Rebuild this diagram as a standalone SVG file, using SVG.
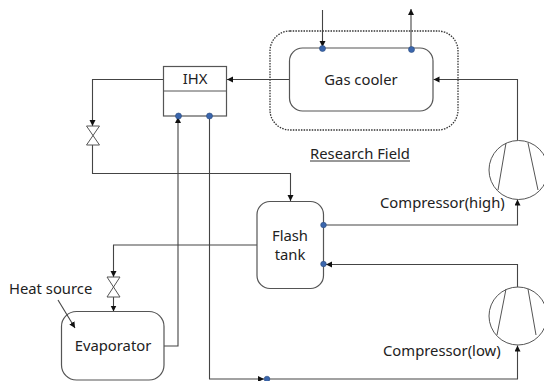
<svg xmlns="http://www.w3.org/2000/svg" width="544" height="381" viewBox="0 0 544 381">
<style>
.box{fill:#fff;stroke:#555;stroke-width:1.2}
.thin{fill:none;stroke:#555;stroke-width:1}
.line{fill:none;stroke:#444;stroke-width:1.1}
.dot{fill:#3a66ad;stroke:#2a4a7c;stroke-width:.6}
.t{font-family:"Noto Sans","Open Sans",sans-serif;font-size:14.8px;fill:#222}
</style>
<defs>
<marker id="a" markerUnits="userSpaceOnUse" markerWidth="7" markerHeight="7" refX="6" refY="3" orient="auto"><path d="M0 0L6 3L0 6Z" fill="#111"/></marker>
</defs>
<rect width="544" height="381" fill="#fff"/>
<g id="research-field">
<rect x="270" y="31" width="188" height="99" rx="20" fill="none" stroke="#333" stroke-width="1.3" stroke-dasharray="1.5 1.2"/>
<text class="t" x="310" y="159">Research Field</text>
<line x1="310" y1="161" x2="410" y2="161" stroke="#333" stroke-width="1"/>
</g>
<g id="connectors">
<path class="line" d="M163.500 79.500H92.500V126" marker-end="url(#a)"/>
<path class="line" d="M92.500 145V173.500H290.500V201" marker-end="url(#a)"/>
<path class="line" d="M257 245H113.500V277" marker-end="url(#a)"/>
<path class="line" d="M113.500 297V311.500" marker-end="url(#a)"/>
<path class="line" d="M164 346H178V117" marker-end="url(#a)"/>
<path class="line" d="M209.500 116V379H264" marker-end="url(#a)"/>
<path class="line" d="M267 379H517.500V345.500" marker-end="url(#a)"/>
<path class="line" d="M517.500 287V264.500H326" marker-end="url(#a)"/>
<path class="line" d="M323 225H517.500V199.500" marker-end="url(#a)"/>
<path class="line" d="M517.500 140V79.500H433.500" marker-end="url(#a)"/>
<path class="line" d="M289.500 79.500H227" marker-end="url(#a)"/>
<path class="line" d="M322.500 10V47" marker-end="url(#a)"/>
<path class="line" d="M411 48V9" marker-end="url(#a)"/>
</g>
<g id="gas-cooler">
<rect class="box" x="289.500" y="48" width="143.500" height="63" rx="13"/>
<text class="t" x="361" y="85" text-anchor="middle">Gas cooler</text>
<circle class="dot" cx="322.500" cy="48.500" r="3"/>
<circle class="dot" cx="411.500" cy="49.500" r="3"/>
</g>
<g id="ihx">
<rect class="box" x="163.500" y="66.500" width="63" height="49.500"/>
<line class="thin" x1="163.500" y1="91" x2="226.500" y2="91"/>
<text class="t" x="195" y="84" text-anchor="middle">IHX</text>
<circle class="dot" cx="178.500" cy="116" r="3"/>
<circle class="dot" cx="209.500" cy="116" r="3"/>
</g>
<g id="valve-1"><path class="thin" d="M86.500 126H99.500L86.500 145H99.500Z"/></g>
<g id="valve-2"><path class="thin" d="M107 277H120L107 297H120Z"/></g>
<g id="flash-tank">
<rect class="box" x="257" y="201.500" width="66.500" height="87" rx="13"/>
<text class="t" x="290" y="241" text-anchor="middle">Flash</text>
<text class="t" x="290" y="260" text-anchor="middle">tank</text>
<circle class="dot" cx="323.500" cy="225" r="2.800"/>
<circle class="dot" cx="323.500" cy="264" r="2.800"/>
</g>
<g id="evaporator">
<rect class="box" x="61.500" y="311.500" width="102.500" height="68.500" rx="15"/>
<text class="t" x="113" y="351" text-anchor="middle">Evaporator</text>
</g>
<g id="heat-source">
<text class="t" x="9" y="294">Heat source</text>
<path class="line" d="M58 300L75 328" marker-end="url(#a)"/>
</g>
<g id="dot-low"><circle class="dot" cx="267" cy="379" r="2.800"/></g>
<g id="compressor-high">
<circle class="thin" cx="518.500" cy="170" r="29.500"/>
<path class="thin" d="M506 143L498 190M528 143L538 190"/>
<text class="t" x="380" y="208">Compressor(high)</text>
</g>
<g id="compressor-low">
<circle class="thin" cx="518" cy="316" r="29"/>
<path class="thin" d="M506 289L497 335M528 289L536 335"/>
<text class="t" x="383" y="356">Compressor(low)</text>
</g>
</svg>
